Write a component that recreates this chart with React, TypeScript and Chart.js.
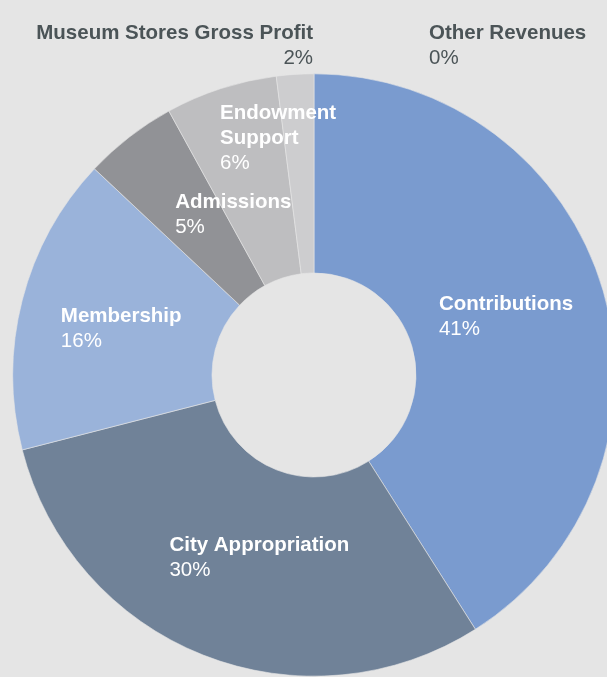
import { useEffect, useRef } from 'react';
import { Chart, registerables } from 'chart.js';

Chart.register(...registerables);

const categories = [
  'Contributions',
  'City Appropriation',
  'Membership',
  'Admissions',
  'Endowment Support',
  'Museum Stores Gross Profit',
  'Other Revenues',
];
const shares = [41, 30, 16, 5, 6, 2, 0];
const percentLabels = ['41%', '30%', '16%', '5%', '6%', '2%', '0%'];
const labelLines = [
  ['Contributions'],
  ['City Appropriation'],
  ['Membership'],
  ['Admissions'],
  ['Endowment', 'Support'],
  ['Museum Stores Gross Profit'],
  ['Other Revenues'],
];

const sliceColors = ['#7a9bcf', '#708298', '#9ab3da', '#919296', '#bebec0', '#cdcdcf', '#cdcdcf'];
// label placement relative to each arc's centroid (dx, dy of first baseline)
const labelOffsets: [number, number][] = [
  [-68.7, -8.7],
  [-70.4, -11.6],
  [-57.9, -3.1],
  [-15.3, -7.3],
  [-31.7, -63.8],
  [11.7, -134.9],
  [115, -134.5],
];
const labelAlign: CanvasTextAlign[] = ['left', 'left', 'left', 'left', 'left', 'right', 'left'];
const labelInside = [true, true, true, true, true, false, false];

const BG = '#e5e5e5';
const FONT = '"Liberation Sans", Arial, sans-serif';

const labelPlugin = {
  id: 'sliceLabels',
  afterDatasetsDraw(chart: any) {
    const ctx = chart.ctx as CanvasRenderingContext2D;
    const meta = chart.getDatasetMeta(0);
    ctx.save();
    ctx.textBaseline = 'alphabetic';
    meta.data.forEach((arc: any, i: number) => {
      const p = arc.tooltipPosition(false);
      const x = p.x + labelOffsets[i][0];
      let y = p.y + labelOffsets[i][1];
      ctx.textAlign = labelAlign[i];
      ctx.fillStyle = labelInside[i] ? '#ffffff' : '#4b5457';
      ctx.font = `bold 20.5px ${FONT}`;
      labelLines[i].forEach((line, j) => {
        ctx.fillText(line, x, y);
        y += 25;
      });
      ctx.font = `normal 20.5px ${FONT}`;
      ctx.fillText(percentLabels[i], x, y);
    });
    ctx.restore();
  },
};

export default function App() {
  const ref = useRef<HTMLCanvasElement | null>(null);
  useEffect(() => {
    document.body.style.margin = '0';
    document.body.style.overflow = 'hidden';
    document.body.style.background = BG;
    const canvas = ref.current!;
    const chart = new Chart(canvas, {
      type: 'doughnut',
      data: {
        labels: categories,
        datasets: [
          {
            data: shares,
            backgroundColor: sliceColors,
            borderColor: BG,
            borderWidth: 0.6,
            hoverOffset: 0,
          },
        ],
      },
      options: {
        responsive: false,
        animation: false,
        cutout: 102,
        layout: { padding: { top: 73.5, bottom: 0.5, left: 11, right: 11 } },
        plugins: {
          legend: { display: false },
          tooltip: { enabled: false },
        },
      },
      plugins: [labelPlugin],
    });
    return () => chart.destroy();
  }, []);
  return (
    <div style={{ width: 607, height: 677, overflow: 'hidden', background: BG, position: 'relative' }}>
      <canvas ref={ref} width={628} height={677} style={{ width: 628, height: 677, display: 'block' }} />
    </div>
  );
}
